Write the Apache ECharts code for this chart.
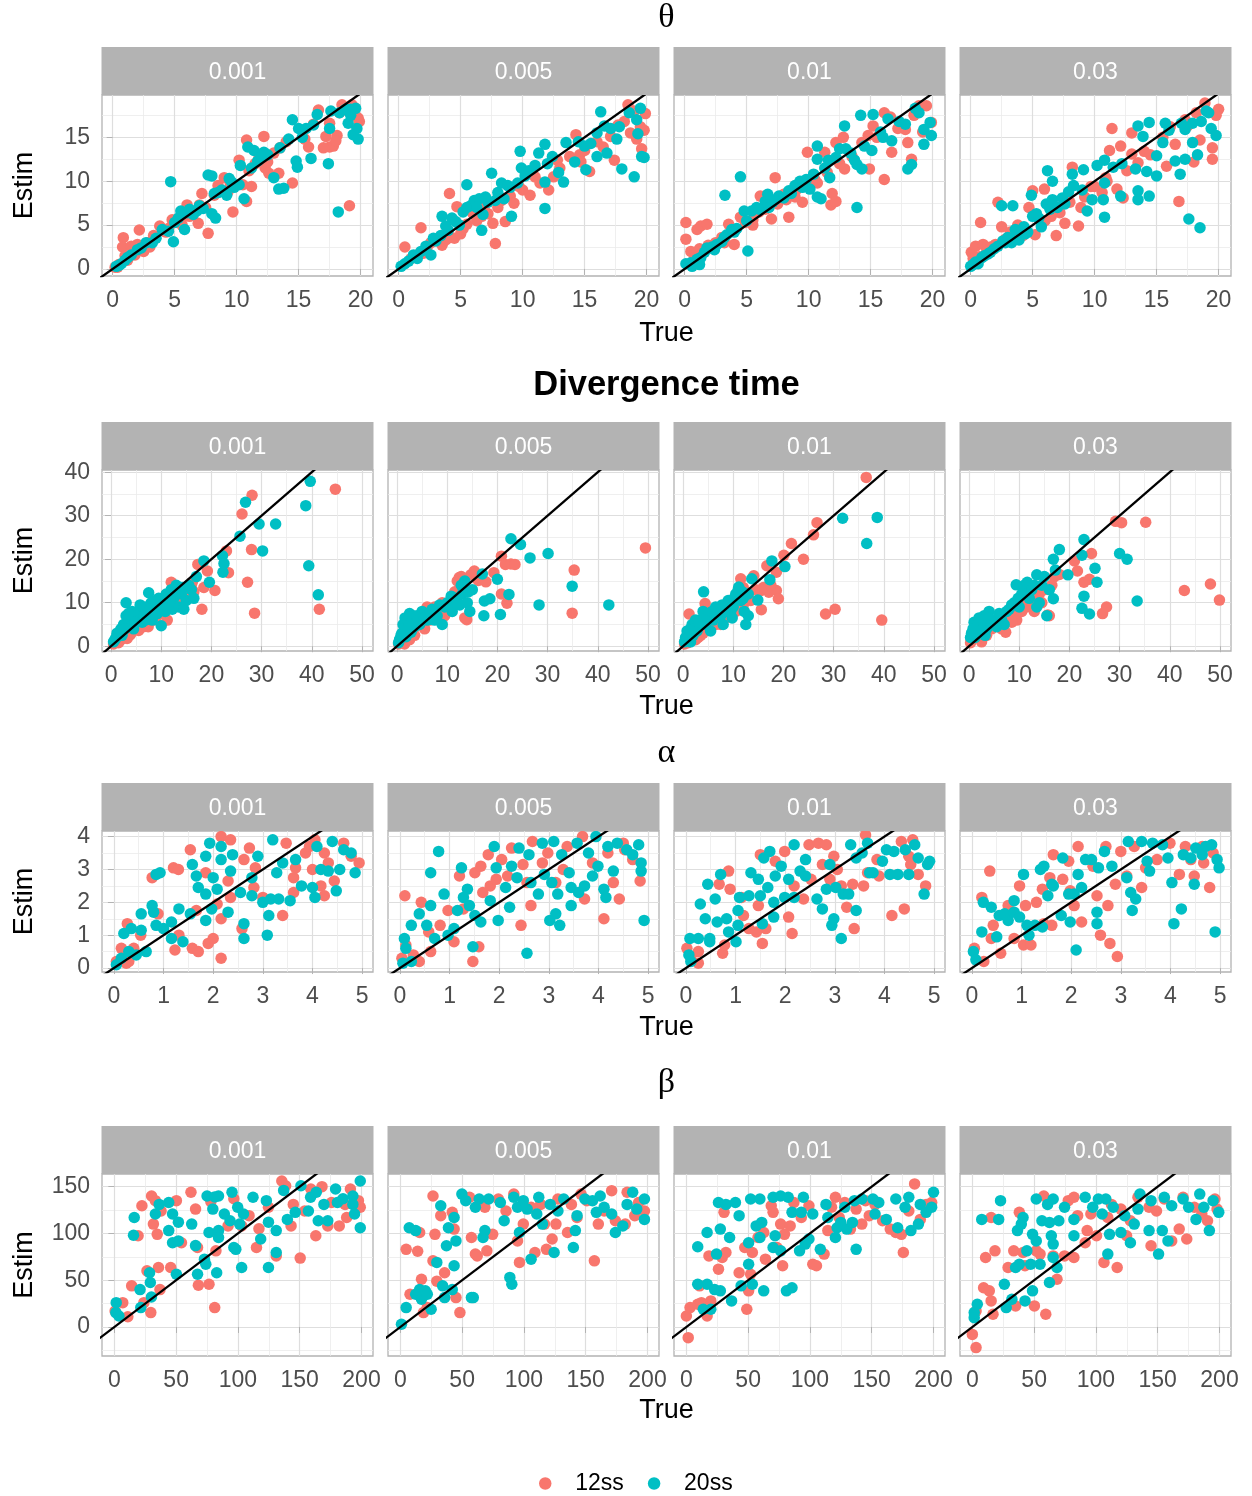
<!DOCTYPE html>
<html><head><meta charset="utf-8">
<script src="https://cdn.jsdelivr.net/npm/echarts@6/dist/echarts.min.js"></script>
<style>html,body{margin:0;padding:0;background:#fff}#c{width:1252px;height:1496px}</style>
</head><body><div id="c"></div>
<script>
// ---------- categories / labels ----------
const rates = ['0.001', '0.005', '0.01', '0.03'];
const rowTitles = ['θ', 'Divergence time', 'α', 'β'];
const groupNames = ['12ss', '20ss'];
const xTitle = 'True';
const yTitle = 'Estim';

// ---------- tick labels ----------
const thetaXTicks = [0, 5, 10, 15, 20];
const thetaYTicks = [0, 5, 10, 15];
const thetaMinor = [2.5, 7.5, 12.5, 17.5];
const divXTicks = [0, 10, 20, 30, 40, 50];
const divYTicks = [0, 10, 20, 30, 40];
const divXMinor = [5, 15, 25, 35, 45];
const divYMinor = [5, 15, 25, 35];
const alphaXTicks = [0, 1, 2, 3, 4, 5];
const alphaYTicks = [0, 1, 2, 3, 4];
const alphaXMinor = [0.5, 1.5, 2.5, 3.5, 4.5];
const alphaYMinor = [0.5, 1.5, 2.5, 3.5];
const betaXTicks = [0, 50, 100, 150, 200];
const betaYTicks = [0, 50, 100, 150];
const betaXMinor = [25, 75, 125, 175];
const betaYMinor = [-25, 25, 75, 125];

// identity reference line y = x
const identityLine = [[-100, -100], [300, 300]];

// ---------- θ ----------
const theta_0001_12ss = [[0.2,0.2],[0.4,0.2],[0.5,0.5],[0.86,3.57],[0.8,2.5],[1.2,1.0],[1.5,2.6],[2.0,2.8],[2.15,4.44],[2.5,2.0],[3.0,2.5],[3.8,4.9],[4.3,4.2],[4.8,5.6],[5.5,5.5],[5.6,5.0],[6.0,7.3],[6.5,6.5],[6.9,5.2],[7.2,8.6],[7.7,4.06],[8.2,8.4],[8.5,9.5],[9.0,10.4],[9.3,8.8],[9.7,6.5],[10.2,12.4],[10.5,9.6],[10.8,7.7],[10.8,14.7],[11.2,9.4],[11.5,12.0],[12.2,15.1],[12.3,11.5],[12.6,10.9],[13.0,13.2],[13.4,10.9],[14.0,14.5],[14.5,9.8],[15.5,14.8],[15.8,13.9],[16.6,18.1],[17.2,15.1],[17.5,13.9],[17.5,16.6],[17.8,14.0],[18.1,15.2],[18.5,18.7],[19.1,7.2],[19.1,18.1],[19.3,18.7],[19.5,17.5],[19.9,16.8],[1.0,1.5],[1.8,1.6],[2.8,3.0],[3.3,3.8],[4.5,4.6],[5.2,5.3],[6.2,6.0],[7.0,7.3],[7.5,7.0],[9.5,9.6],[11.0,11.2],[11.8,12.6],[12.5,12.2],[13.5,13.8],[16.2,16.5],[18.3,17.8],[19.5,18.4],[19.8,17.2],[17.0,13.8],[18.0,14.6]];
const theta_0001_20ss = [[0.3,0.3],[0.7,0.6],[1.0,1.0],[1.5,1.6],[2.0,2.2],[2.7,3.0],[3.2,3.0],[4.0,4.5],[4.5,4.3],[4.68,9.95],[4.9,3.1],[5.3,5.8],[5.5,6.6],[5.8,4.5],[6.2,6.8],[6.8,6.6],[7.7,10.7],[8.0,10.6],[8.0,6.3],[8.3,5.8],[8.2,8.6],[8.5,8.7],[9.0,8.8],[9.4,10.3],[9.8,9.3],[10.2,9.6],[10.6,8.0],[10.3,11.8],[10.9,13.9],[11.4,13.5],[11.7,12.3],[12.2,13.3],[12.5,13.0],[13.0,10.4],[13.4,9.1],[13.8,9.2],[14.2,14.8],[14.5,17.0],[14.8,12.3],[14.9,11.6],[15.0,16.0],[15.6,16.0],[16.0,12.6],[16.5,17.6],[17.4,12.0],[17.5,16.0],[17.6,18.0],[18.2,6.5],[18.3,17.8],[19.0,16.6],[19.2,18.2],[19.4,15.3],[19.6,18.3],[19.7,16.0],[19.8,14.8],[0.5,0.4],[1.2,1.3],[2.3,2.4],[3.5,3.5],[5.0,5.3],[6.0,6.4],[6.5,6.2],[7.0,7.2],[7.3,6.9],[8.8,9.0],[9.2,8.4],[9.6,9.9],[11.2,11.5],[12.0,12.8],[13.5,13.8],[15.3,15.0],[16.2,16.4],[18.8,18.2],[19.2,17.5]];
const theta_0005_12ss = [[0.5,2.5],[1.0,1.2],[1.8,4.7],[2.0,1.8],[2.3,2.5],[3.0,3.3],[3.5,2.7],[4.1,8.6],[4.2,3.6],[4.5,3.5],[4.7,7.1],[5.0,4.0],[5.5,5.1],[6.0,6.3],[6.7,6.0],[7.0,7.5],[7.2,6.3],[7.6,5.2],[7.8,2.9],[8.3,7.8],[8.6,5.4],[9.7,9.4],[10.6,8.4],[11.4,9.8],[12.1,9.0],[12.5,10.5],[12.8,12.4],[14.3,15.3],[14.6,13.0],[14.7,12.2],[15.4,11.1],[16.5,13.9],[17.1,15.1],[17.4,12.4],[17.7,16.4],[18.5,18.7],[18.7,15.5],[19.2,14.8],[19.6,13.7],[19.8,15.8],[19.9,17.7],[1.5,1.6],[2.6,3.0],[3.8,3.3],[5.2,4.6],[6.3,5.5],[6.9,6.7],[8.0,7.0],[9.0,8.3],[9.3,7.5],[10.0,9.0],[11.0,10.5],[13.0,11.5],[13.8,12.8],[15.0,13.5],[16.0,14.5],[18.2,16.8],[19.0,18.0],[19.5,16.2]];
const theta_0005_20ss = [[0.2,0.3],[0.8,0.9],[1.2,1.6],[1.5,1.2],[2.6,1.6],[2.8,3.5],[3.4,3.8],[3.5,6.0],[4.0,4.4],[4.3,5.8],[4.9,5.0],[5.2,6.5],[5.5,9.6],[5.8,7.2],[6.1,7.8],[6.5,8.0],[6.7,4.4],[6.8,6.2],[7.5,10.9],[7.8,7.8],[8.3,9.8],[8.5,8.0],[9.0,9.3],[9.1,6.0],[9.6,9.8],[9.8,13.4],[9.9,11.5],[10.5,11.2],[11.0,11.8],[11.3,13.2],[11.8,14.2],[11.8,6.9],[11.8,9.9],[12.4,12.8],[12.9,11.0],[13.3,9.9],[13.5,14.4],[14.2,12.2],[15.0,14.0],[15.1,11.3],[15.5,14.3],[16.0,12.8],[16.3,17.9],[16.6,16.3],[16.8,13.2],[17.1,16.0],[17.6,14.8],[18.0,11.4],[19.0,10.5],[19.2,17.0],[19.3,15.4],[19.5,18.3],[19.6,12.8],[19.8,12.7],[0.5,0.6],[1.8,2.0],[2.2,2.6],[3.0,3.2],[3.8,4.9],[4.6,5.4],[5.5,7.0],[6.3,7.0],[7.2,7.6],[7.0,8.2],[8.0,8.7],[8.8,9.5],[10.2,10.6],[12.0,12.0],[14.5,14.5],[16.0,15.5],[17.8,16.2],[18.6,17.8]];
const theta_001_12ss = [[0.1,5.3],[0.1,3.4],[0.5,2.0],[1.0,4.5],[1.2,2.3],[1.3,4.9],[1.8,5.1],[1.9,2.7],[2.5,3.0],[3.0,3.6],[3.55,5.1],[4.0,2.8],[4.5,5.9],[4.9,5.3],[5.5,5.0],[6.1,8.3],[6.5,6.8],[7.0,5.7],[7.3,10.4],[8.0,8.5],[8.4,5.9],[9.0,9.0],[9.5,7.6],[9.9,13.3],[10.7,9.8],[11.3,13.3],[11.8,7.3],[11.9,8.6],[12.2,7.7],[12.2,14.4],[12.8,15.0],[12.9,11.4],[14.3,14.4],[14.8,15.2],[14.9,11.4],[15.2,16.3],[16.1,17.8],[16.1,10.2],[16.6,17.3],[16.7,13.3],[17.8,15.9],[18.0,14.4],[18.3,12.5],[18.9,18.6],[19.2,15.6],[19.9,16.7],[0.8,1.3],[1.5,2.0],[2.2,2.4],[3.2,3.0],[5.5,5.6],[6.0,6.5],[7.5,7.4],[8.2,7.9],[8.9,8.2],[10.0,9.5],[10.5,10.2],[11.5,11.0],[12.5,12.0],[13.5,12.8],[15.5,15.0],[17.2,16.0],[18.5,17.5],[19.5,18.6]];
const theta_001_20ss = [[0.1,0.6],[0.5,0.7],[1.2,0.5],[1.3,1.3],[1.8,2.4],[2.2,2.5],[2.6,2.8],[3.0,3.1],[3.25,8.4],[3.4,3.9],[3.8,4.5],[4.2,4.6],[4.5,10.5],[4.8,6.6],[5.1,2.05],[5.4,6.6],[5.8,7.0],[6.5,7.7],[6.7,8.5],[7.1,7.6],[7.6,8.3],[8.0,8.1],[8.4,8.9],[8.9,9.5],[9.3,10.0],[9.8,10.2],[10.1,9.1],[10.7,8.2],[11.0,8.0],[10.7,14.0],[10.7,12.5],[11.6,12.4],[11.7,10.4],[12.5,13.7],[12.9,16.3],[13.0,13.7],[13.7,12.4],[13.9,11.9],[13.9,7.0],[14.2,17.5],[14.3,11.4],[15.1,13.5],[15.2,17.6],[15.8,15.6],[16.4,17.1],[16.7,14.6],[17.8,16.5],[18.0,11.4],[18.3,11.9],[18.9,17.8],[19.3,14.2],[19.3,15.9],[19.8,16.7],[19.9,15.2],[0.6,0.3],[1.0,1.1],[1.6,1.9],[2.4,2.2],[3.2,3.6],[4.0,4.2],[5.0,5.5],[6.0,6.8],[6.8,7.0],[7.3,7.9],[8.6,8.6],[9.5,9.3],[10.4,10.8],[11.3,11.5],[12.2,12.7],[13.4,13.2],[14.5,14.0],[16.0,15.0],[17.3,16.8],[18.6,18.3]];
const theta_003_12ss = [[0.05,1.9],[0.4,2.6],[0.8,5.3],[1.0,2.8],[1.6,2.5],[2.2,7.6],[2.5,4.8],[3.2,4.2],[3.8,5.0],[4.2,3.8],[4.7,7.0],[5.0,8.9],[5.2,3.9],[5.5,5.7],[5.95,9.1],[6.5,6.0],[6.9,3.8],[7.6,5.2],[8.2,11.6],[8.7,4.9],[8.9,7.0],[9.7,9.4],[10.6,8.7],[10.9,10.4],[11.2,13.5],[11.4,16.0],[11.8,9.1],[12.1,14.0],[12.3,8.1],[13.0,13.1],[13.0,15.5],[13.5,12.1],[14.0,13.4],[15.8,11.7],[16.1,16.2],[16.8,7.7],[17.3,17.0],[18.0,12.2],[18.5,14.7],[18.9,18.9],[19.5,13.8],[19.5,12.5],[20.0,18.2],[0.2,1.2],[0.7,1.4],[1.3,2.0],[2.0,2.8],[2.8,3.4],[3.5,3.8],[4.5,4.2],[6.0,5.5],[7.2,6.4],[8.0,7.6],[9.2,8.2],[10.0,9.4],[11.0,10.0],[12.6,11.2],[14.5,13.0],[15.5,15.0],[16.5,14.2],[17.5,16.3],[18.2,17.8],[19.8,17.5]];
const theta_003_20ss = [[0.0,0.3],[0.4,0.8],[0.9,1.3],[1.4,1.7],[1.9,2.3],[2.5,7.2],[2.8,3.0],[3.2,3.5],[3.4,7.2],[3.6,4.5],[3.9,3.3],[4.3,4.8],[4.6,4.2],[4.9,8.4],[5.0,6.0],[5.3,6.3],[5.7,4.8],[6.1,7.4],[6.2,11.2],[6.6,10.0],[6.6,7.9],[7.0,7.0],[7.4,8.1],[7.9,8.8],[8.2,10.8],[8.3,9.5],[9.1,11.3],[9.4,6.6],[9.8,7.9],[10.2,11.8],[10.7,7.9],[10.8,12.4],[10.8,5.9],[10.8,9.8],[12.1,8.3],[13.3,11.4],[13.5,8.9],[13.5,7.9],[13.5,16.3],[13.9,15.1],[14.2,11.1],[14.4,8.3],[14.4,16.7],[15.0,10.6],[15.0,12.9],[15.5,14.4],[15.7,16.6],[16.5,12.3],[16.9,10.8],[17.3,12.5],[17.3,15.9],[17.6,5.7],[17.9,16.6],[17.9,14.4],[18.3,13.0],[18.5,4.7],[18.6,16.8],[19.2,17.8],[19.4,16.0],[19.8,15.2],[0.2,0.5],[0.6,0.6],[1.1,1.5],[1.6,1.9],[2.2,2.6],[2.6,3.2],[3.0,3.6],[3.3,3.0],[4.0,4.4],[4.4,4.0],[5.5,5.8],[6.4,6.8],[7.6,7.4],[9.0,9.0],[11.5,11.6],[12.2,12.0],[16.0,15.8],[17.0,16.6],[19.0,18.0]];

// ---------- Divergence time ----------
const div_0001_12ss = [[1,1],[1.5,0.8],[2,1.5],[2.5,2.0],[3,2.5],[3.5,3.8],[4,3],[5,4],[5.5,3.6],[6,5],[7,5.5],[7.4,4.5],[8,7],[8.5,6.0],[9,6.7],[9,8],[10,8.5],[10.5,7.5],[11,10],[11.2,6.0],[12,10.5],[12,14.7],[12.8,9],[13,12],[13.5,10.5],[14,12.5],[15,13],[15,12.8],[16,14],[16.2,14.7],[17.3,18.8],[18.1,8.5],[18.5,13.5],[19.2,17.3],[20.7,12.8],[23.0,21.9],[23.4,16.9],[26.1,30.4],[27.2,14.7],[28.0,22.2],[28.1,34.7],[28.6,7.6],[41.5,8.5],[44.7,36.1],[0.5,0.5],[1.8,2.5],[3.2,1.8],[4.5,4.0],[6.5,4.5],[7.5,7.0],[9.5,8.8],[11.5,9.5],[12.5,12.0],[14.5,11.5],[16.5,12.5],[3.8,2.6]];
const div_0001_20ss = [[0.8,1.5],[1.2,3.0],[1.5,2.5],[2,4],[2.2,2.5],[2.5,5],[3,7],[3,10],[3.5,5.5],[4,6],[4.2,8],[4.5,4],[5,7],[5.5,6],[6,8],[6.2,5.5],[6.5,7],[7,9],[7.5,12.3],[8,10],[8.2,6],[8.5,8],[9,9],[9.5,11],[10,4.7],[10.5,10],[11,12],[11.5,9],[12,13],[12.2,8.5],[12.5,11],[13,14],[13.5,9],[14,12],[14.5,8.5],[15,10.5],[16,13],[17,16],[18.5,19.6],[19.6,14.7],[22.2,20.8],[22.5,19.0],[22.3,17.0],[25.7,25.3],[26.8,33.1],[29.5,28.1],[30.2,21.9],[32.8,28.1],[38.8,32.3],[39.7,37.9],[39.4,18.5],[41.3,11.8],[0.5,1.0],[1.0,2.0],[1.8,3.5],[2.8,4.0],[3.5,7.5],[4.8,5.5],[5.8,9.5],[6.8,6.0],[7.8,8.5],[8.8,10.5],[9.2,7.5],[10.8,8.0],[11.8,10.5],[13.2,12.5],[14.2,13.5],[15.5,14.0],[16.5,11.0]];
const div_0005_12ss = [[0.5,1],[1,2],[1.5,0.5],[1.5,3],[2,2.5],[2.5,1.5],[3,4],[3.5,2.5],[4,5.5],[5,6],[5.5,4.0],[6,9],[7,7],[8,8.5],[9,10],[9.5,7.0],[10,8],[11,11],[12,15],[12.4,15.8],[12.5,13],[13,14],[13.9,6.1],[14.7,16.4],[15.4,17.3],[16.2,15.1],[17.7,14.8],[19.3,16.9],[20.8,20.7],[20.8,12.0],[21.6,18.8],[21.9,9.9],[22.7,18.9],[23.5,18.8],[35.3,17.5],[34.9,7.6],[49.5,22.6],[0.3,0.5],[0.8,1.5],[2.2,3.5],[3.2,5.0],[4.5,5.0],[5.5,8.0],[6.5,6.0],[7.5,9.0],[8.5,7.5],[10.5,10.0],[11.5,12.5],[12.8,16.0],[13.5,6.5]];
const div_0005_20ss = [[0.5,1.5],[1,3],[1.5,4],[1.8,2.2],[2,5.5],[2.5,7.5],[2.8,3.2],[3,6],[3.5,4.5],[4,7],[4.5,5.0],[5,8],[6,6],[6.5,7.5],[7,8.5],[8,7],[8.5,9.5],[9,5],[10,10],[10.5,9],[11,8],[12,11],[12.5,9.5],[13,12],[13.5,15],[14,10],[14.5,8],[15,13],[17.0,16.6],[17.4,10.4],[17.3,7],[18.5,10.9],[20.0,15.4],[20.6,7.3],[22.3,11.9],[22.7,24.7],[24.6,23.4],[26.5,20.3],[30.1,21.3],[28.3,9.5],[34.9,13.8],[42.2,9.5],[0.3,0.8],[0.8,2.5],[1.2,5.0],[1.6,6.5],[2.2,4.0],[2.6,5.0],[3.2,7.0],[3.8,5.5],[4.2,6.0],[5.5,6.5],[7.5,6.0],[9.5,9.0],[10.8,11.5],[11.5,10.0],[12.8,14.0],[14.2,12.5]];
const div_001_12ss = [[0.5,1.5],[1,0.8],[1.2,7.4],[2,3],[2.5,1.5],[3,2],[4,3],[4.4,9.8],[5,4],[5.5,4.5],[6,5.5],[7,6],[7.5,5.0],[8,7],[9,8.5],[9.5,7.0],[10,9],[11,10],[11.5,15.5],[12,9.5],[12,13.5],[13,12],[14.1,16.2],[15.6,8.4],[15.6,12.8],[16.7,18.5],[17.1,12.4],[18.6,12.8],[18.6,17.0],[19.0,10.9],[20.1,20.9],[21.6,23.6],[24.0,20.0],[26.0,25.6],[26.7,28.4],[28.4,7.4],[30.3,8.5],[36.5,38.8],[39.6,6.0],[0.3,0.5],[1.5,2.5],[2.5,3.5],[3.5,2.5],[4.5,5.5],[6.5,5.0],[8.5,6.5],[10.5,8.0],[12.5,11.0],[13.5,10.5],[14.5,13.0],[16.0,13.5],[17.5,14.0]];
const div_001_20ss = [[0.5,2],[1,3],[1.5,1.0],[1.5,4],[2,2.5],[2.5,6],[3,4.5],[3.5,6],[4,8],[4.1,12.5],[4.5,5],[5,7],[5.5,3.5],[6,6],[6.5,9],[7,8],[7.5,7],[8,5],[8.5,9.5],[9,10.5],[9.5,8],[9.8,6.5],[10,9],[10.5,12],[11,13],[11.1,13.6],[11.5,10.5],[12,11],[12.5,5],[13,7],[13.7,15.5],[14.9,10.6],[17.3,15.3],[17.7,19.6],[20.3,18.3],[31.8,29.4],[38.7,29.6],[36.6,23.6],[0.3,1.0],[0.8,3.5],[1.2,2.0],[1.8,5.0],[2.2,4.0],[2.8,3.5],[3.2,5.5],[4.8,6.5],[5.8,8.0],[6.8,7.0],[7.8,9.5],[8.8,8.0],[10.2,11.0],[11.8,12.5],[12.2,8.0],[13.0,12.0]];
const div_003_12ss = [[0.5,1.5],[0.7,2.3],[1,2],[1.5,2.5],[2,4],[2.5,1.0],[3,3],[4,5],[5,4.5],[6,6],[6.5,4.0],[7.3,3.2],[8,7],[9,8],[9.5,6.0],[10,9],[11,11],[12,10],[13,8],[14,12],[15,13],[15.7,7.2],[16,7],[17,16],[21.0,19.6],[21.6,17.3],[22.9,14.7],[24.0,15.4],[24.4,21.3],[26.6,7.5],[27.4,9.0],[29.2,28.7],[30.4,28.4],[35.2,28.5],[42.9,12.8],[48.1,14.3],[49.9,10.6],[0.3,0.8],[1.2,3.0],[2.2,2.0],[3.5,2.5],[4.5,4.0],[5.5,6.0],[7.0,5.0],[8.5,5.5],[10.5,8.0],[11.5,9.0],[12.5,11.5],[14.5,10.0],[16.5,14.0],[18.0,16.5]];
const div_003_20ss = [[0.5,3],[1,5.5],[1.2,2.0],[1.5,4],[2,6.5],[2.5,5],[3,7],[3.2,2.5],[3.5,4],[4,8],[5,6],[5.5,4.5],[6,7.5],[7,5],[8,8.5],[9,10],[9.4,14.1],[10,9],[10.5,12],[11,14],[11.6,14.7],[12,11],[13,14],[13.5,9],[13.5,16.4],[14,10],[15,16],[15.5,7],[16.8,10.9],[16.8,20.0],[18.0,22.2],[19.7,16.4],[22.5,20.9],[22.9,24.5],[22.9,11.5],[22.5,8.7],[24.0,7.4],[25.1,17.9],[25.5,14.7],[30.0,21.3],[31.5,20.0],[33.5,10.4],[0.3,2.0],[0.8,4.0],[1.8,5.0],[2.2,3.5],[2.8,6.0],[3.8,6.5],[4.5,5.5],[6.5,6.0],[7.5,8.0],[8.5,9.5],[9.8,11.0],[11.5,12.0],[12.5,13.0],[14.5,14.0],[16.0,13.0],[17.2,17.5]];

// ---------- α ----------
const alpha_0001_12ss = [[0.05,0.2],[0.25,0.15],[0.3,0.2],[0.27,1.35],[0.15,0.6],[0.4,0.6],[0.54,1.0],[0.77,2.75],[0.89,1.65],[1.2,3.05],[1.3,3.0],[1.23,0.55],[1.31,1.0],[1.54,3.6],[1.58,0.6],[1.7,0.5],[1.66,1.75],[1.85,2.9],[1.9,0.75],[2.0,0.9],[2.08,1.95],[2.16,0.3],[2.16,1.5],[2.16,4.0],[2.35,3.9],[2.3,2.65],[2.35,2.15],[2.58,1.2],[2.62,3.3],[2.73,3.65],[2.82,2.45],[2.85,3.05],[3.0,2.15],[3.4,1.6],[3.47,3.8],[3.62,2.75],[3.66,3.05],[3.62,2.3],[3.86,3.5],[3.94,3.7],[4.0,3.0],[4.05,3.9],[4.17,2.5],[4.24,2.2],[4.24,3.5],[4.32,3.2],[4.44,2.65],[4.63,3.8],[4.78,3.4],[4.94,3.2]];
const alpha_0001_20ss = [[0.05,0.1],[0.15,0.3],[0.3,0.5],[0.45,0.4],[0.2,1.05],[0.35,1.2],[0.55,1.15],[0.65,0.5],[0.55,1.65],[0.8,1.7],[0.77,1.9],[0.85,2.85],[0.93,2.9],[0.85,1.3],[1.0,1.2],[1.16,1.4],[1.16,0.9],[1.31,1.8],[1.39,0.8],[1.54,1.65],[1.58,3.15],[1.66,2.8],[1.7,2.45],[1.85,2.25],[1.85,1.45],[1.85,3.4],[1.97,1.8],[1.93,3.8],[2.0,2.75],[2.08,2.4],[2.16,3.7],[2.16,3.3],[2.3,1.7],[2.35,2.95],[2.39,3.45],[2.55,2.3],[2.62,1.35],[2.62,0.9],[2.78,2.2],[2.78,2.75],[2.9,3.4],[3.0,2.0],[3.09,1.0],[3.12,1.6],[3.2,3.9],[3.16,2.1],[3.28,2.9],[3.32,2.1],[3.55,2.05],[3.4,3.2],[3.66,3.3],[3.78,2.5],[4.0,2.45],[4.05,2.15],[4.09,3.7],[4.17,3.0],[4.32,2.95],[4.4,3.85],[4.48,2.35],[4.55,3.0],[4.63,3.6],[4.78,3.5],[4.86,2.9]];
const alpha_0005_12ss = [[0.1,2.2],[0.04,0.3],[0.27,0.4],[0.12,0.7],[0.39,0.2],[0.43,2.0],[0.62,0.5],[0.58,1.1],[0.81,1.3],[0.97,1.75],[1.09,0.8],[1.2,2.8],[1.28,1.8],[1.47,0.2],[1.51,2.9],[1.59,0.65],[1.63,3.1],[1.67,2.3],[1.78,3.45],[1.82,2.5],[1.94,2.7],[2.05,3.3],[2.17,2.8],[2.25,3.65],[2.44,1.3],[2.48,3.15],[2.56,2.6],[2.64,1.9],[2.67,3.85],[2.87,3.2],[2.98,3.5],[3.14,2.6],[3.29,3.0],[3.37,3.7],[3.68,4.0],[3.72,2.1],[3.88,3.2],[4.11,1.5],[4.19,3.5],[4.3,2.6],[4.42,2.1],[4.5,3.8],[4.53,3.6],[4.69,3.3],[4.84,2.65]];
const alpha_0005_20ss = [[0.06,0.15],[0.09,0.9],[0.12,0.6],[0.23,1.3],[0.39,1.65],[0.23,0.2],[0.54,1.3],[0.62,2.9],[0.62,1.9],[0.78,3.55],[0.7,0.9],[0.89,2.25],[0.97,1.0],[1.09,1.2],[1.16,1.75],[1.24,3.05],[1.28,2.15],[1.36,2.4],[1.4,1.9],[1.47,0.65],[1.51,1.6],[1.63,1.4],[1.82,2.05],[1.9,3.7],[1.94,3.05],[1.98,1.45],[2.13,2.45],[2.21,1.85],[2.25,3.1],[2.36,2.75],[2.4,3.65],[2.56,0.45],[2.6,3.45],[2.64,2.6],[2.79,2.25],[2.87,3.8],[2.91,2.85],[3.06,2.6],[3.02,1.45],[3.1,3.85],[3.14,1.65],[3.18,2.25],[3.22,1.3],[3.26,3.45],[3.41,2.9],[3.45,2.45],[3.45,1.9],[3.57,3.8],[3.6,2.3],[3.72,2.5],[3.8,3.5],[3.88,2.8],[3.95,4.0],[3.99,3.1],[4.11,2.4],[4.15,2.15],[4.19,3.7],[4.3,2.95],[4.38,3.8],[4.57,3.6],[4.69,3.45],[4.81,3.75],[4.86,3.2],[4.86,2.95],[4.92,1.45]];
const alpha_001_12ss = [[0.02,0.6],[0.1,0.3],[0.25,0.15],[0.25,0.5],[0.67,2.55],[0.74,0.45],[0.78,0.7],[0.86,2.95],[0.89,2.4],[1.16,1.6],[1.12,2.15],[1.27,1.2],[1.42,1.1],[1.46,1.9],[1.5,3.45],[1.54,0.75],[1.61,1.2],[1.8,3.25],[1.99,3.55],[2.07,1.55],[2.14,1.05],[2.18,2.5],[2.37,2.1],[2.48,3.75],[2.52,2.7],[2.67,3.8],[2.75,3.15],[2.83,3.75],[2.9,2.7],[2.98,3.4],[3.05,3.0],[3.13,2.5],[3.24,1.85],[3.36,2.55],[3.39,1.2],[3.58,2.5],[3.62,4.05],[3.66,2.9],[3.85,3.3],[3.89,2.8],[4.15,1.6],[4.34,3.85],[4.4,1.8],[4.49,3.4],[4.53,3.15],[4.57,3.9],[4.68,2.85],[4.83,2.5]];
const alpha_001_20ss = [[0.06,0.4],[0.1,0.2],[0.08,0.9],[0.25,0.9],[0.48,0.9],[0.29,1.95],[0.39,1.5],[0.44,2.55],[0.48,0.8],[0.59,2.1],[0.63,1.4],[0.7,2.85],[0.82,1.5],[0.86,1.1],[1.01,0.8],[1.05,1.75],[1.05,1.3],[1.08,2.15],[1.27,2.2],[1.31,2.9],[1.46,2.7],[1.5,2.2],[1.54,1.35],[1.57,3.35],[1.69,3.55],[1.65,2.45],[1.77,2.0],[1.77,1.55],[1.8,2.8],[1.92,3.1],[1.99,2.15],[2.07,2.7],[2.18,3.75],[2.18,2.15],[2.3,2.95],[2.41,3.3],[2.41,2.8],[2.64,2.1],[2.75,1.8],[2.83,2.4],[2.9,3.15],[2.94,1.3],[2.98,1.5],[3.02,2.45],[3.13,0.9],[3.17,2.25],[3.28,2.25],[3.32,3.75],[3.43,1.75],[3.43,3.35],[3.55,3.5],[3.66,3.8],[3.7,2.9],[3.77,2.9],[3.96,3.25],[4.04,3.6],[4.11,2.85],[4.19,3.55],[4.27,2.85],[4.42,3.6],[4.49,2.85],[4.61,3.75],[4.68,3.35],[4.8,2.25],[4.87,3.15],[4.91,3.25]];
const alpha_003_12ss = [[0.05,0.6],[0.2,2.15],[0.24,0.2],[0.36,2.95],[0.39,0.9],[0.43,1.3],[0.58,0.45],[0.73,1.9],[0.85,0.9],[0.96,2.5],[1.04,0.7],[1.08,1.9],[1.19,0.7],[1.3,2.0],[1.42,2.4],[1.45,1.35],[1.57,2.75],[1.64,3.45],[1.61,1.3],[1.83,2.7],[1.95,3.25],[1.98,2.35],[2.06,1.9],[2.14,3.7],[2.21,1.4],[2.44,3.1],[2.52,2.2],[2.59,1.0],[2.7,3.7],[2.74,1.9],[2.78,0.75],[2.93,0.35],[2.89,2.55],[3.0,3.55],[3.12,2.8],[3.27,3.7],[3.42,2.45],[3.5,3.05],[3.73,3.3],[3.99,3.8],[4.18,2.85],[4.3,3.7],[4.41,3.3],[4.48,2.8],[4.64,3.7],[4.67,3.2],[4.79,2.45],[4.86,3.5]];
const alpha_003_20ss = [[0.03,0.5],[0.08,0.25],[0.2,1.1],[0.23,2.0],[0.39,1.85],[0.5,0.95],[0.55,1.6],[0.66,1.65],[0.73,1.45],[0.85,2.05],[0.85,1.7],[0.96,1.55],[1.04,2.85],[1.11,1.3],[1.15,1.0],[1.27,1.3],[1.38,3.0],[1.42,1.25],[1.45,3.1],[1.53,2.2],[1.61,2.55],[1.64,2.5],[1.8,1.6],[1.83,3.35],[1.95,2.25],[1.98,1.4],[2.06,2.25],[2.14,2.85],[2.1,0.55],[2.21,2.45],[2.29,3.3],[2.41,3.3],[2.52,1.35],[2.52,1.7],[2.55,3.05],[2.67,3.55],[2.82,3.1],[3.12,2.75],[3.15,3.85],[3.2,2.3],[3.23,1.75],[3.3,2.1],[3.42,3.85],[3.53,3.25],[3.58,2.95],[3.64,3.8],[3.84,3.75],[3.95,3.35],[4.03,2.6],[4.07,1.35],[4.22,1.8],[4.26,3.45],[4.41,3.35],[4.48,2.55],[4.51,3.65],[4.64,3.45],[4.71,3.7],[4.83,3.75],[4.9,1.1],[4.94,3.3],[4.98,3.05]];

// ---------- β ----------
const beta_0001_12ss = [[0.6,17],[6.8,26],[10.9,11],[14,44],[19.2,97.5],[22.3,129.6],[23.9,26],[26.4,60],[29.5,15.4],[30.1,140],[31.6,110],[33.2,135],[34.7,99],[35.7,63.6],[36.9,40],[37.8,124],[45.6,63.6],[50.2,135],[54.3,90],[62,144],[65.7,126],[67.3,85],[68,44.6],[76.6,45.7],[78.1,134],[81.2,20.7],[82.2,81.4],[92,108],[96.7,137],[103,108],[109,119],[115,85],[117,105],[124.7,128],[131,76],[135.5,156],[138.6,151],[143,108],[144.8,131],[150.4,73.6],[154,124],[159,147.5],[163,97.5],[168,150],[172.7,108],[175.8,133],[182,108],[186.7,131],[188,117],[191,147.5],[197.5,135],[199,128]];
const beta_0001_20ss = [[1.5,26],[1.2,15.4],[3.7,11.8],[16.1,117],[15.5,98],[20.8,40],[21.4,20.7],[29.1,47.5],[28.5,58],[30,32],[33.2,120.7],[36.3,131],[44,133],[44,103],[47.1,120.7],[47.1,90],[51.8,112],[51.8,92],[50.2,56.4],[62.6,110],[65.7,87],[67.3,56.4],[72.9,72.5],[74,67],[75,140],[76.6,101],[79.7,126],[81.2,139],[82.8,58],[84.3,140],[84.3,103],[84.3,95.7],[89,120.7],[93.6,113.6],[95.2,144],[96.7,85],[98.3,83],[99.8,128],[101.4,110],[103,63.6],[104.5,120.7],[112.2,138.6],[118.4,94],[123,135],[124.7,112],[124.7,63.6],[131,79.6],[131,103],[137,146],[140,115],[146.4,122.5],[151,151],[157,124],[158.8,138.6],[163.4,144],[165,113.6],[169.6,131],[172.7,113.6],[179,147.5],[180.5,133],[185,137],[193,131],[193,140],[194.4,120.7],[199,156],[199,106]];
const beta_0005_12ss = [[4.7,83],[7.8,35],[14,81],[15.6,101],[17.1,51],[18.7,15.4],[21.8,20.7],[26.4,140],[26.4,70.7],[28,99],[29.5,49],[32.7,119],[35.8,58],[42,122.5],[43.5,104.6],[45,31.4],[48.2,15.4],[56,138.6],[57.5,95.7],[60.7,78],[62.2,76],[68.4,128],[70,81.4],[74.7,99],[79.3,136.8],[85.5,124],[91.8,142],[94.8,92],[96.4,69],[99.5,110],[105.8,128],[108.9,79.6],[113.5,131],[116.6,110],[118.2,83],[122.8,94],[125.9,110],[127.5,136.8],[135.3,101],[138.4,131],[143,117],[146.2,142],[150.9,135],[157,70.7],[160.2,110],[164.9,124],[171,145.7],[174,113.6],[182,110],[183.5,144],[189.7,119],[192.8,133],[197.5,124]];
const beta_0005_20ss = [[0.9,2.9],[4.7,20.7],[7.2,106],[12.4,103],[12.4,35],[15.6,40],[17.1,29.6],[20.2,38.6],[21.8,35],[24.9,19],[29.5,69],[32.7,129.6],[34.2,44],[35.8,31.4],[37.3,86.8],[38.9,106],[42,40],[43.5,65.4],[43.5,117],[45,92],[49.8,142],[52.9,135],[57.5,31.4],[59,31.4],[60.7,128],[63.8,136.8],[66.9,95.7],[68.4,103],[71.5,136.8],[80.9,133],[84,113.6],[88.6,53],[90.2,45.7],[91.8,138.6],[94.8,128],[96.4,101],[99.5,135],[102.6,126],[105.8,72.5],[110.4,120.7],[112,138.6],[115,110],[121.3,131],[124.4,79.6],[127.5,124],[132.2,136.8],[140,85],[141.6,103],[143,119],[149.3,136.8],[155.5,135],[158.6,122.5],[161.7,140],[164.9,128],[171,120.7],[174,101],[180,108],[183.5,131],[188,144],[191.3,126],[197.5,136.8],[197.5,115]];
const beta_001_12ss = [[1.5,-11.4],[0,11.8],[3,20.7],[9.2,24.3],[12.2,26],[16.8,11.8],[19.8,27.9],[10.7,44],[18.3,76],[26,61.8],[29,74.3],[32,79.6],[30.5,122.5],[42.7,58],[47.3,85],[48.9,19],[50.4,38.6],[52,56.4],[53.4,79.6],[58,95.7],[62.6,101],[64,72.5],[68.7,129.6],[70.2,122.5],[73.3,85],[76.3,110],[77.9,65.4],[79.4,99],[84,108],[87,133],[93,117],[99.2,129.6],[102.3,67],[105.3,65.4],[111.5,77.9],[114.5,103],[117.5,128],[120.6,138.6],[123.7,117],[128.2,133],[132.8,104.6],[137.4,126],[142,110],[145,135],[148,119],[152.7,131],[158.8,113.6],[165,104.6],[169.5,101],[174,99],[175.6,79.6],[180,124],[184.7,152.9],[189.3,115],[194,131],[198.5,133]];
const beta_001_20ss = [[9.2,45.7],[9.2,85.7],[13.7,19],[16.8,45.7],[16.8,101],[19.8,19],[22.9,40],[24.4,77.9],[26,133],[27.5,38.6],[27.5,104.6],[32,131],[35,95.7],[36.6,27.9],[39.7,133],[42.7,119],[44.3,44],[50.4,67],[50.4,90],[52,136.8],[53.4,45.7],[56.5,108],[59.5,95.7],[59.5,136.8],[61,111.8],[62.6,38.6],[70.2,138.6],[70.2,85],[71.8,97.5],[76.3,140],[76.3,81.4],[81,38.6],[82.4,138.6],[85.5,42],[85.5,122.5],[91.6,81.4],[93,122.5],[94.7,138.6],[96.2,88.6],[99.2,94],[102.3,120.7],[108.4,83],[113,131],[114.5,117],[120.6,95.7],[122,106],[125,111.8],[128.2,128],[129.8,104.6],[134.4,111.8],[136,135],[137.4,83],[142,136.8],[151,136.8],[152.7,120.7],[155.7,133],[161.8,115],[169.5,136.8],[171,106],[177,128],[180,138.6],[181.7,103],[187.8,110],[189.3,131],[194,122.5],[198.5,128],[200,144]];
const beta_003_12ss = [[0,-7.9],[3,-22],[3,17],[10.7,74.3],[9.1,42],[13.7,38.6],[15.2,27.9],[16.7,13.6],[15.2,117],[18.3,81.4],[28.9,63.6],[33.5,81.4],[35,22.5],[38,122.5],[41,79.6],[42.6,65.4],[50.2,22.5],[51.7,81.4],[54.8,77.9],[59.4,13.6],[57.8,140],[65.4,76],[68.5,51],[74.6,76],[77.6,135],[82.2,74.3],[82.2,138.6],[85.2,119],[91.3,90],[92.9,103],[95.9,120.7],[100.5,97.5],[106.5,69],[109.6,117],[112.6,131],[117.2,63.6],[120.2,126],[124.8,97.5],[127.9,113.6],[134,138.6],[143,128],[144.6,86.8],[149,124],[155.3,136.8],[161.3,92],[167.4,104.6],[170.5,138.6],[173.5,94],[179.6,128],[185.7,120.7],[190.3,113.6],[196.3,136.8],[198,126]];
const beta_003_20ss = [[1.5,10],[1.5,15.4],[4,24.3],[7.6,115],[21.3,115],[22.8,135],[25.9,45.7],[27.4,20.7],[32,29.6],[35,63.6],[36.5,103],[38,67],[39.6,110],[41,117],[42.6,27.9],[44.1,81.4],[47.2,67],[48.7,38.6],[48.7,99],[51.7,136.8],[51.7,92],[54.8,67],[56.3,113.6],[60.9,131],[62.4,111.8],[62.4,47.5],[63.9,97.5],[65.4,136.8],[65.4,88.6],[65.4,74.3],[68.5,63.6],[70,113.6],[74.6,128],[82.2,97.5],[82.2,115],[91.3,138.6],[97.4,128],[102,136.8],[105,120.7],[108,136.8],[109.6,77.9],[111,99],[114,128],[120.2,101],[123.3,119],[127.9,90],[131,110],[134,126],[135.6,142],[143,103],[144.6,135],[150.7,77.9],[153.7,103],[155.3,138.6],[158.3,92],[161.3,129.6],[170.5,136.8],[175,128],[181,115],[184,142],[187.3,128],[191.8,103],[194.8,135],[199.4,122.5]];

// ---------- assemble (rows x rates x groups) ----------
const rowData = [
  [[theta_0001_12ss, theta_0001_20ss], [theta_0005_12ss, theta_0005_20ss], [theta_001_12ss, theta_001_20ss], [theta_003_12ss, theta_003_20ss]],
  [[div_0001_12ss, div_0001_20ss], [div_0005_12ss, div_0005_20ss], [div_001_12ss, div_001_20ss], [div_003_12ss, div_003_20ss]],
  [[alpha_0001_12ss, alpha_0001_20ss], [alpha_0005_12ss, alpha_0005_20ss], [alpha_001_12ss, alpha_001_20ss], [alpha_003_12ss, alpha_003_20ss]],
  [[beta_0001_12ss, beta_0001_20ss], [beta_0005_12ss, beta_0005_20ss], [beta_001_12ss, beta_001_20ss], [beta_003_12ss, beta_003_20ss]]
];
const rowXTicks = [thetaXTicks, divXTicks, alphaXTicks, betaXTicks];
const rowYTicks = [thetaYTicks, divYTicks, alphaYTicks, betaYTicks];
const rowXMinor = [thetaMinor, divXMinor, alphaXMinor, betaXMinor];
const rowYMinor = [thetaMinor, divYMinor, alphaYMinor, betaYMinor];

// ---------- layout / style ----------
const xRange = [[-0.86, 21.0], [-1.8, 52.2], [-0.24, 5.22], [-10, 209.3]];
const yRange = [[-0.8, 19.82], [-1.1, 40.5], [-0.12, 4.17], [-31, 163.5]];
const colLeft = [102, 388, 674, 960];
const panelW = 271;
const rowTop = [95, 470, 831, 1174];
const rowH = [181, 181, 141, 182];
const stripH = 48;
const titleY = [18, 385, 753, 1083];
const xTitleY = [334, 707, 1028, 1411];
const colors = ['#F8766D', '#00BFC4'];
const SANS = '"Liberation Sans", Arial, Helvetica, sans-serif';
const SERIF = '"Liberation Serif", "DejaVu Serif", serif';
const centerX = (colLeft[0] + colLeft[3] + panelW) / 2;
const FS = 23;

const grids = [], xAxes = [], yAxes = [], series = [], graphics = [];
function txt(x, y, text, font, fill, rot) {
  return { type: 'text', x: x, y: y, rotation: rot || 0, silent: true, z: 20,
    style: { text: text, font: font, fill: fill, textAlign: 'center', textVerticalAlign: 'middle' } };
}

for (let r = 0; r < 4; r++) {
  const bold = r === 1;
  graphics.push(txt(centerX, titleY[r], rowTitles[r],
    bold ? 'bold 34.5px ' + SANS : '34px ' + SERIF, '#000'));
  graphics.push(txt(centerX, xTitleY[r], xTitle, '27px ' + SANS, '#000'));
  graphics.push(txt(25, rowTop[r] + rowH[r] / 2, yTitle, '27px ' + SANS, '#000', Math.PI / 2));
  for (let c = 0; c < 4; c++) {
    const g = grids.length;
    grids.push({ left: colLeft[c], top: rowTop[r], width: panelW, height: rowH[r],
      show: true, borderColor: '#B3B3B3', borderWidth: 1.3, backgroundColor: '#fff', containLabel: false });
    graphics.push({ type: 'rect', silent: true, z: 15,
      shape: { x: colLeft[c] - 0.5, y: rowTop[r] - stripH, width: panelW + 1, height: stripH },
      style: { fill: '#B3B3B3' } });
    graphics.push(txt(colLeft[c] + panelW / 2, rowTop[r] - stripH / 2 + 1.5, rates[c], FS + 'px ' + SANS, '#fff'));

    // minor grid axes
    xAxes.push({ gridIndex: g, type: 'value', position: 'top', min: xRange[r][0], max: xRange[r][1],
      axisLine: { show: false }, axisTick: { show: false, customValues: rowXMinor[r] },
      axisLabel: { show: false, customValues: rowXMinor[r] },
      splitLine: { show: true, lineStyle: { color: '#EBEBEB', width: 0.8 } } });
    yAxes.push({ gridIndex: g, type: 'value', position: 'right', min: yRange[r][0], max: yRange[r][1],
      axisLine: { show: false }, axisTick: { show: false, customValues: rowYMinor[r] },
      axisLabel: { show: false, customValues: rowYMinor[r] },
      splitLine: { show: true, lineStyle: { color: '#EBEBEB', width: 0.8 } } });
    // major axes
    const xi = xAxes.length, yi = yAxes.length;
    xAxes.push({ gridIndex: g, type: 'value', position: 'bottom', min: xRange[r][0], max: xRange[r][1],
      axisLine: { show: false },
      axisTick: { show: true, length: 6, customValues: rowXTicks[r], lineStyle: { color: '#B3B3B3', width: 1 } },
      axisLabel: { show: true, customValues: rowXTicks[r], margin: 13, color: '#4D4D4D', fontSize: FS, fontFamily: SANS },
      splitLine: { show: true, lineStyle: { color: '#DEDEDE', width: 1.2 } } });
    yAxes.push({ gridIndex: g, type: 'value', position: 'left', min: yRange[r][0], max: yRange[r][1],
      axisLine: { show: false },
      axisTick: { show: c === 0, length: 6, customValues: rowYTicks[r], lineStyle: { color: '#B3B3B3', width: 1 } },
      axisLabel: { show: c === 0, customValues: rowYTicks[r], margin: 12, color: '#4D4D4D', fontSize: FS, fontFamily: SANS },
      splitLine: { show: true, lineStyle: { color: '#DEDEDE', width: 1.2 } } });

    for (let s = 0; s < 2; s++) {
      series.push({ type: 'scatter', name: groupNames[s], xAxisIndex: xi, yAxisIndex: yi,
        data: rowData[r][c][s], symbol: 'circle', symbolSize: 11.5, silent: true,
        itemStyle: { color: colors[s], opacity: 1 }, z: 2 + s });
    }
    series.push({ type: 'line', name: 'identity', xAxisIndex: xi, yAxisIndex: yi, data: identityLine,
      symbol: 'none', showSymbol: false, silent: true, clip: true,
      lineStyle: { color: '#000', width: 2.3 }, z: 5 });
  }
}

const chart = echarts.init(document.getElementById('c'), null, { renderer: 'canvas' });
chart.setOption({
  animation: false,
  backgroundColor: '#fff',
  grid: grids, xAxis: xAxes, yAxis: yAxes, series: series,
  graphic: { elements: graphics },
  legend: { data: groupNames, left: 534, top: 1467, icon: 'circle', itemWidth: 50, itemHeight: 12.5,
    itemGap: 24, selectedMode: false, textStyle: { fontSize: 23, color: '#000', fontFamily: SANS } }
});
</script>
</body></html>
